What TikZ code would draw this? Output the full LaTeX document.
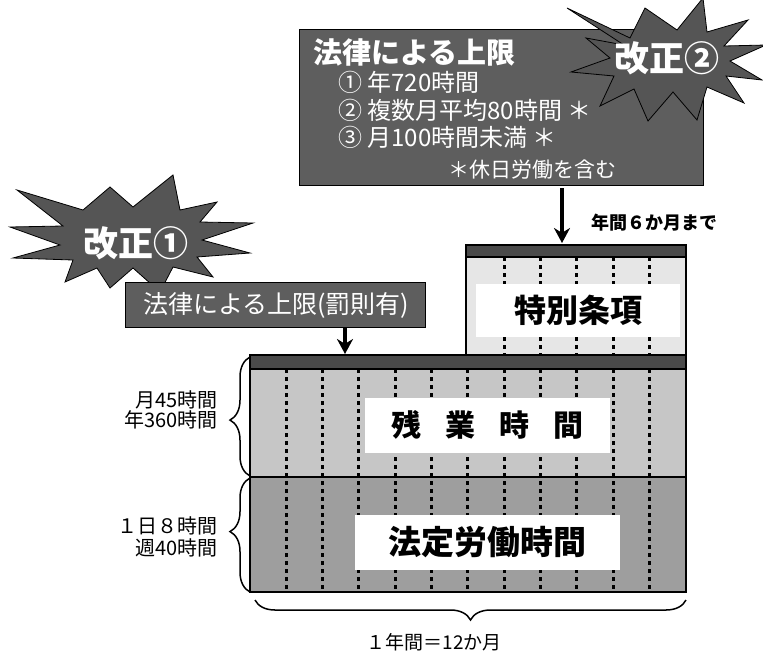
\documentclass[tikz,border=0pt]{standalone}
\usepackage{fontspec}
\setmainfont{Noto Sans CJK JP}
\usetikzlibrary{arrows.meta,decorations.pathreplacing}
\definecolor{boxgray}{HTML}{5E5E5E}
\definecolor{stargray}{HTML}{555555}
\definecolor{barzone}{HTML}{4A4A4A}
\definecolor{lightzone}{HTML}{C6C6C6}
\definecolor{midzone}{HTML}{9E9E9E}
\definecolor{specialzone}{HTML}{E6E6E6}
\tikzset{
  limitbox/.style={draw=black, line width=0.8pt, fill=boxgray, inner sep=0pt},
  burst/.style={draw=black, line width=0.8pt, fill=stargray},
  bursttext/.style={text=white, font=\fontsize{35}{38}\selectfont\bfseries, inner sep=0pt},
  whitetxt/.style={text=white, inner sep=0pt, anchor=west},
  labelbox/.style={fill=white, inner sep=0pt},
  monthline/.style={line width=3pt, dash pattern=on 4pt off 4pt, black},
  chartedge/.style={line width=2.4pt, black},
  bar/.style={fill=barzone, draw=black, line width=1.2pt},
  downarrow/.style={line width=3.2pt, -{Stealth[length=15pt,width=16pt]}},
  sidebrace/.style={decorate, decoration={brace, amplitude=20pt}, line width=1.5pt},
  sidetext/.style={font=\fontsize{20}{22}\selectfont, inner sep=0pt, anchor=east}
}
\begin{document}
\begin{tikzpicture}[x=1pt,y=-1pt]
\useasboundingbox (0,0) rectangle (763,657);

% ---------- chart zones ----------
\fill[specialzone] (466,245) rectangle (686,355);
\fill[lightzone] (250,355) rectangle (686,477);
\fill[midzone] (250,477) rectangle (686,592);

% month dividers
\foreach \i in {1,...,11}{
  \pgfmathsetmacro{\xx}{250+\i*36.33}
  \draw[monthline] (\xx,369) -- (\xx,592);
}
\foreach \i in {7,...,11}{
  \pgfmathsetmacro{\xx}{250+\i*36.33}
  \draw[monthline] (\xx,257) -- (\xx,355);
}

% white label boxes
\node[labelbox, minimum width=204, minimum height=53] (special) at (578,310)
  {\fontsize{32}{36}\selectfont\bfseries 特別条項};
\node[labelbox, minimum width=245, minimum height=55] (zangyo) at (487,425)
  {\fontsize{30}{34}\selectfont\bfseries 残\hspace{24pt}業\hspace{24pt}時\hspace{24pt}間};
\node[labelbox, minimum width=265, minimum height=55] (hotei) at (487,542)
  {\fontsize{33}{37}\selectfont\bfseries 法定労働時間};

% bars and outlines
\draw[bar] (466,245) rectangle (686,257);
\draw[bar] (250,355) rectangle (686,369);
\draw[chartedge] (466,355) -- (466,245) -- (686,245) -- (686,592) -- (250,592) -- (250,355) -- (466,355);
\draw[chartedge] (250,477) -- (686,477);

% ---------- top limit box ----------
\node[limitbox, minimum width=404, minimum height=156, anchor=north west] (lim2) at (299,29) {};
\node[whitetxt, font=\fontsize{29}{32}\selectfont\bfseries] (t0) at (313,52) {法律による上限};
\node[whitetxt, font=\fontsize{24}{26}\selectfont] (t1) at (338,82) {① 年720時間};
\node[whitetxt, font=\fontsize{24}{26}\selectfont] (t2) at (338,110) {② 複数月平均80時間 ＊};
\node[whitetxt, font=\fontsize{24}{26}\selectfont] (t3) at (338,137) {③ 月100時間未満 ＊};
\node[whitetxt, font=\fontsize{21}{24}\selectfont] (t4) at (448,170) {＊休日労働を含む};

% starburst 2
\path[burst] (567,8) -- (630,38) -- (645,8) -- (677,30) -- (703,-2) -- (707,32)
  -- (748,20) -- (724,46) -- (766,45) -- (730,61) -- (762,80) -- (726,76)
  -- (744,103) -- (707,87) -- (697,120) -- (673,92) -- (648,121) -- (634,89)
  -- (600,106) -- (614,76) -- (571,72) -- (610,58) -- (586,38) -- (624,45) -- cycle;
\node[bursttext] (k2) at (667,58) {改正②};

% arrow to special clause
\coordinate (a2s) at (562,188);
\coordinate (a2e) at (562,243);
\draw[downarrow] (a2s) -- (a2e);
\node[font=\fontsize{18}{20}\selectfont\bfseries, inner sep=0pt, anchor=west] (sixm) at (591,223) {年間６か月まで};

% ---------- starburst 1 ----------
\path[burst] (17,190) -- (83,210) -- (110,187) -- (133,207) -- (173,175) -- (180,210)
  -- (217,202) -- (200,222) -- (253,223) -- (202,240) -- (250,253) -- (197,257)
  -- (213,277) -- (173,267) -- (160,292) -- (133,268) -- (110,288) -- (97,268)
  -- (65,282) -- (73,260) -- (13,258) -- (60,245) -- (10,227) -- (63,226) -- cycle;
\node[bursttext] (k1) at (136,243) {改正①};

% second limit box
\node[limitbox, minimum width=300, minimum height=45, anchor=north west] (lim1) at (125,282) {};
\node[whitetxt, font=\fontsize{25}{28}\selectfont] (l1) at (143,305) {法律による上限(罰則有)};
\coordinate (a1s) at (345,327);
\coordinate (a1e) at (345,354);
\draw[downarrow] (a1s) -- (a1e);

% ---------- braces and side labels ----------
\coordinate (b1a) at (250,476);
\coordinate (b1b) at (250,357);
\coordinate (b2a) at (250,592);
\coordinate (b2b) at (250,478);
\coordinate (b3a) at (686,600);
\coordinate (b3b) at (255,600);
\draw[sidebrace, decoration={aspect=0.47}] (b1a) -- (b1b);
\draw[sidebrace, decoration={aspect=0.53}] (b2a) -- (b2b);
\draw[decorate, decoration={brace, amplitude=20pt, aspect=0.5}, line width=1.5pt] (b3a) -- (b3b);

\node[sidetext] (s1) at (218,400) {月45時間};
\node[sidetext] (s2) at (218,420) {年360時間};
\node[sidetext] (s3) at (218,526) {１日８時間};
\node[sidetext] (s4) at (218,548) {週40時間};
\node[font=\fontsize{19}{22}\selectfont, inner sep=0pt] (yr) at (434,642) {１年間＝12か月};
\end{tikzpicture}
\end{document}
